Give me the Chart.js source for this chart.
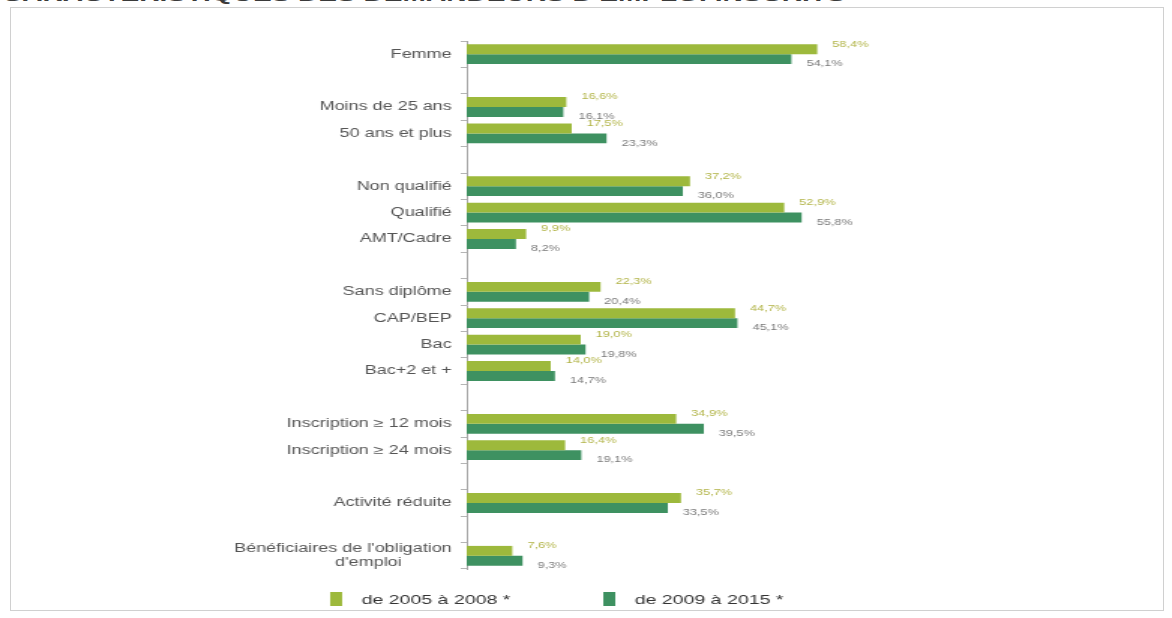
<!DOCTYPE html>
<html lang="fr">
<head>
    <meta charset="UTF-8">
    <title>Caractéristiques des demandeurs d'emploi</title>
    <script src="https://cdn.jsdelivr.net/npm/chart.js"></script>
    <style>
        html, body { margin: 0; padding: 0; background: #fff; overflow: hidden; }
        #wrap { position: relative; width: 1172px; height: 618px; overflow: hidden; }
        #titre {
            position: absolute; left: 2px; top: -14px; white-space: nowrap;
            font: bold 17px "Liberation Sans", Arial, sans-serif; color: #3a3a3a;
            transform: scaleX(1.65); transform-origin: left top;
        }
        #cadre {
            position: absolute; left: 10px; top: 7px; width: 1154px; height: 604px;
            border: 1px solid #d0d0d0; box-sizing: border-box; background: #fff;
        }
        #chart { position: absolute; left: 0; top: 0; }
    </style>
</head>
<body>
<div id="wrap">
    <div id="titre">CARACTÉRISTIQUES DES DEMANDEURS D'EMPLOI INSCRITS</div>
    <div id="cadre"></div>
    <!-- le canvas est étiré horizontalement (781 -> 1172 px) -->
    <canvas id="chart" width="781" height="618" style="width:1172px;height:618px"></canvas>
</div>
<script>
    // lignes vides = séparation entre les groupes
    const categories = [
        'Femme', '',
        'Moins de 25 ans', '50 ans et plus', '',
        'Non qualifié', 'Qualifié', 'AMT/Cadre', '',
        'Sans diplôme', 'CAP/BEP', 'Bac', 'Bac+2 et +', '',
        'Inscription ≥ 12 mois', 'Inscription ≥ 24 mois', '',
        'Activité réduite', '',
        ["Bénéficiaires de l'obligation", "d'emploi" + '\u00a0'.repeat(10)]
    ];
    const periode2005 = [58.4, null, 16.6, 17.5, null, 37.2, 52.9, 9.9, null, 22.3, 44.7, 19.0, 14.0, null, 34.9, 16.4, null, 35.7, null, 7.6];
    const periode2009 = [54.1, null, 16.1, 23.3, null, 36.0, 55.8, 8.2, null, 20.4, 45.1, 19.8, 14.7, null, 39.5, 19.1, null, 33.5, null, 9.3];
    const series = ['de 2005 à 2008 *', 'de 2009 à 2015 *'];

    const couleurs = ['#9db93c', '#3e9161'];
    const couleursEtiquettes = ['#b2b448', '#7a7a7a'];

    const pct = v => v.toFixed(1).replace('.', ',') + '%';

    // valeurs à droite des barres : 1re série au-dessus, 2e en dessous
    const valeursPlugin = {
        id: 'valeurs',
        afterDatasetsDraw(chart) {
            const ctx = chart.ctx;
            ctx.save();
            ctx.font = '8.5px "Liberation Sans", Arial, sans-serif';
            ctx.textAlign = 'left';
            ctx.textBaseline = 'middle';
            chart.data.datasets.forEach((ds, i) => {
                chart.getDatasetMeta(i).data.forEach((bar, j) => {
                    const v = ds.data[j];
                    if (v == null) return;
                    ctx.fillStyle = couleursEtiquettes[i];
                    ctx.fillText(pct(v), bar.x + 10, bar.y + (i === 0 ? -5 : 5));
                });
            });
            ctx.restore();
        }
    };

    // légende dessinée à la main sous le graphique
    const legendePlugin = {
        id: 'legende',
        afterDraw(chart) {
            const ctx = chart.ctx;
            const xs = [220, 402];
            ctx.save();
            ctx.font = '13px "Liberation Sans", Arial, sans-serif';
            ctx.textBaseline = 'middle';
            chart.data.datasets.forEach((ds, i) => {
                ctx.fillStyle = ds.backgroundColor;
                ctx.fillRect(xs[i], 592, 8, 14);
                ctx.fillStyle = '#333';
                ctx.fillText(ds.label, xs[i] + 21, 600);
            });
            ctx.restore();
        }
    };

    new Chart(document.getElementById('chart'), {
        type: 'bar',
        data: {
            labels: categories,
            datasets: [
                { label: series[0], data: periode2005, backgroundColor: couleurs[0] },
                { label: series[1], data: periode2009, backgroundColor: couleurs[1] }
            ]
        },
        options: {
            indexAxis: 'y',
            responsive: false,
            animation: false,
            devicePixelRatio: 1,
            datasets: { bar: { categoryPercentage: 0.75, barPercentage: 1.0 } },
            layout: { padding: { top: 41, bottom: 49, left: 0, right: 70 } },
            scales: {
                x: { display: false, min: 0, max: 100 },
                y: {
                    afterFit(scale) { scale.width = 311; },
                    grid: { drawOnChartArea: false, tickLength: 4, color: '#b5b5b5' },
                    border: { color: '#a8a8a8' },
                    ticks: {
                        autoSkip: false,
                        padding: 6,
                        color: '#555',
                        font: { family: '"Liberation Sans", Arial, sans-serif', size: 12 }
                    }
                }
            },
            plugins: {
                legend: { display: false },
                tooltip: { enabled: false }
            }
        },
        plugins: [valeursPlugin, legendePlugin]
    });
</script>
</body>
</html>
